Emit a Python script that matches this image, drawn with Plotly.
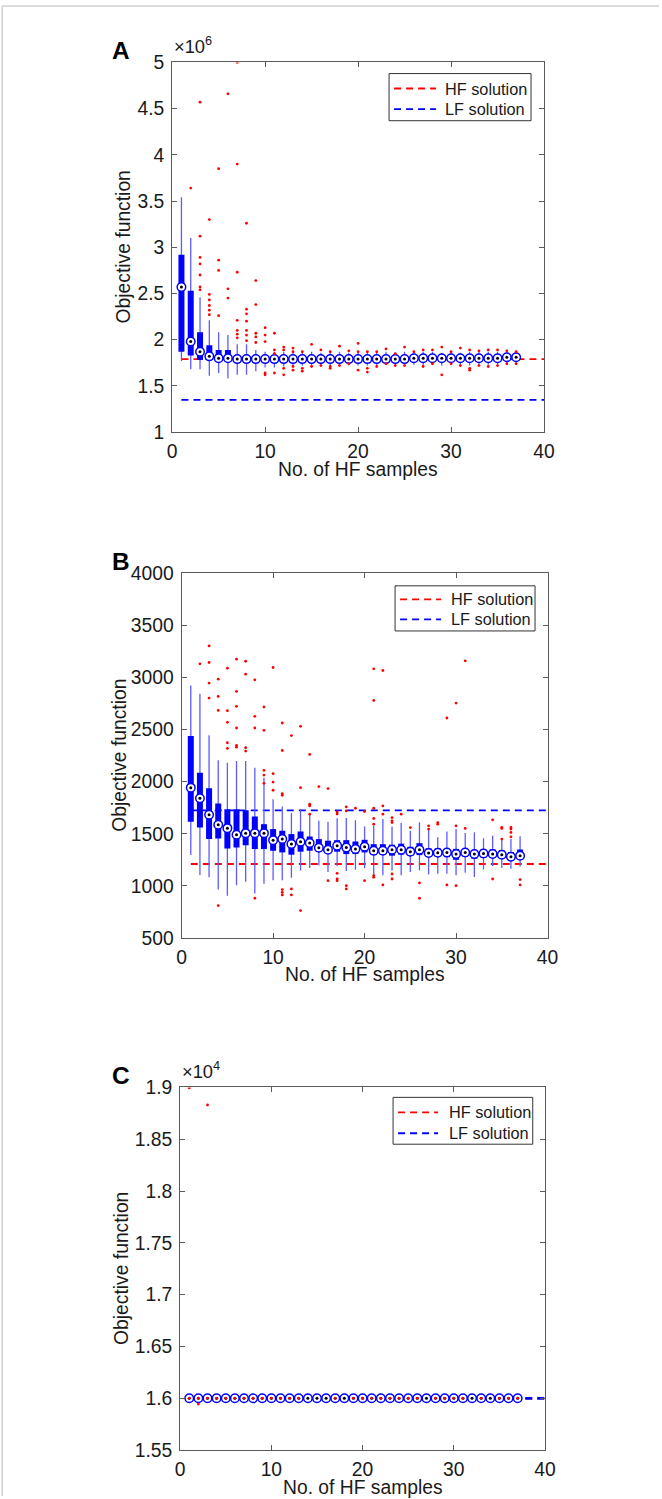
import plotly.graph_objects as go

# The page is photographed with an 8px body margin and then resized back to 662x1499,
# so figure pixels are mapped from reference pixels with these factors.
REF_W, REF_H = 662, 1499
BODY_MARGIN = 8
SX = (REF_W + 2 * BODY_MARGIN) / REF_W
SY = (REF_H + 2 * BODY_MARGIN) / REF_H
W, H = REF_W + BODY_MARGIN, REF_H + BODY_MARGIN
FS = (SX + SY) / 2
FONT = "Liberation Sans, Arial, sans-serif"

# ---------------- data ----------------
X = [1, 2, 3, 4, 5, 6, 7, 8, 9, 10, 11, 12, 13, 14, 15, 16, 17, 18, 19, 20,
     21, 22, 23, 24, 25, 26, 27, 28, 29, 30, 31, 32, 33, 34, 35, 36, 37]
REF_X = [1, 40]
SERIES_NAMES = ["HF solution", "LF solution"]

# Panel A (values in units of 10^6)
A_med = [2.57, 1.98, 1.87, 1.82, 1.80, 1.80, 1.79, 1.79, 1.79, 1.79, 1.79, 1.79, 1.79, 1.79, 1.79,
         1.79, 1.79, 1.79, 1.79, 1.79, 1.79, 1.79, 1.79, 1.79, 1.79, 1.80, 1.80, 1.80, 1.80, 1.80,
         1.80, 1.80, 1.80, 1.80, 1.80, 1.81, 1.81]
A_q1 = [1.87, 1.83, 1.78, 1.78, 1.78, 1.78, 1.78, 1.78, 1.78, 1.78, 1.78, 1.78, 1.78, 1.78, 1.78,
        1.78, 1.78, 1.78, 1.78, 1.78, 1.78, 1.78, 1.78, 1.78, 1.78, 1.78, 1.78, 1.78, 1.78, 1.78,
        1.78, 1.78, 1.78, 1.78, 1.78, 1.79, 1.79]
A_q3 = [2.92, 2.53, 2.08, 1.94, 1.89, 1.89, 1.82, 1.82, 1.81, 1.81, 1.81, 1.81, 1.81, 1.81, 1.81,
        1.81, 1.81, 1.81, 1.81, 1.81, 1.81, 1.81, 1.81, 1.81, 1.81, 1.81, 1.81, 1.81, 1.81, 1.81,
        1.81, 1.81, 1.81, 1.81, 1.81, 1.82, 1.82]
A_lo = [1.77, 1.68, 1.68, 1.61, 1.64, 1.58, 1.62, 1.62, 1.66, 1.70, 1.70, 1.71, 1.71, 1.72, 1.72,
        1.72, 1.72, 1.72, 1.73, 1.72, 1.72, 1.72, 1.73, 1.72, 1.73, 1.73, 1.72, 1.73, 1.72, 1.73,
        1.72, 1.72, 1.73, 1.73, 1.73, 1.73, 1.74]
A_hi = [3.54, 3.10, 2.46, 2.21, 2.08, 2.05, 1.95, 1.95, 1.89, 1.87, 1.87, 1.87, 1.87, 1.86, 1.87,
        1.86, 1.86, 1.87, 1.86, 1.87, 1.86, 1.86, 1.87, 1.86, 1.87, 1.86, 1.87, 1.87, 1.86, 1.87,
        1.86, 1.87, 1.87, 1.87, 1.87, 1.87, 1.87]
A_out_x = [2,
           3, 3, 3, 3, 3, 3, 3,
           4, 4, 4, 4, 4, 4,
           5, 5, 5, 5,
           6, 6, 6,
           7, 7, 7, 7, 7, 7, 7,
           8, 8, 8, 8, 8, 8, 8,
           9, 9, 9, 9, 9,
           10, 10, 10, 10, 10,
           11, 11, 11, 11,
           12, 12, 12, 12,
           13, 13, 13, 13,
           14, 14, 14,
           15, 15, 16, 16, 17, 17, 17, 18, 18, 19, 19, 20, 20, 20,
           21, 21, 21, 22, 22, 23, 23, 24, 24, 25, 25, 26, 27, 27, 28, 28,
           29, 29, 30, 30, 31, 31, 32, 32, 32, 33, 33, 34, 34, 35, 35, 36, 36, 37, 37]
A_out_y = [3.64,
           4.57, 3.12, 2.89, 2.82, 2.70, 2.57, 2.54,
           3.30, 2.49, 2.43, 2.37, 2.32, 2.27,
           3.85, 2.86, 2.75, 2.26,
           4.66, 2.55, 2.45,
           5.00, 3.90, 2.73, 2.21, 2.10, 2.06, 2.02,
           3.26, 2.33, 2.28, 2.20, 2.10, 2.05, 1.99,
           2.64, 2.38, 2.07, 2.03, 1.97,
           2.13, 2.05, 1.98, 1.64, 1.62,
           2.07, 1.89, 1.85, 1.64,
           1.92, 1.89, 1.69, 1.62,
           1.91, 1.87, 1.71, 1.67,
           1.87, 1.69, 1.66,
           1.95, 1.71, 1.89, 1.72, 1.87, 1.71, 1.69, 1.93, 1.72, 1.88, 1.74, 1.96, 1.87, 1.67,
           1.87, 1.65, 1.69, 1.87, 1.71, 1.90, 1.74, 1.85, 1.72, 1.92, 1.72, 1.87, 1.89, 1.71, 1.89, 1.74,
           1.92, 1.62, 1.87, 1.74, 1.91, 1.72, 1.89, 1.69, 1.67, 1.88, 1.72, 1.89, 1.71, 1.89, 1.72, 1.88,
           1.74, 1.87, 1.74]
A_hf = 1.79
A_lf = 1.35
A_yticks = [1, 1.5, 2, 2.5, 3, 3.5, 4, 4.5, 5]
A_yticktext = ["1", "1.5", "2", "2.5", "3", "3.5", "4", "4.5", "5"]
A_yrange = [1, 5]

# Panel B
B_med = [1943, 1841, 1682, 1586, 1554, 1490, 1506, 1506, 1506, 1439, 1449, 1401, 1423, 1411, 1366,
         1347, 1385, 1369, 1353, 1375, 1337, 1337, 1347, 1347, 1328, 1347, 1315, 1318, 1321, 1305,
         1321, 1305, 1310, 1305, 1299, 1280, 1289]
B_q1 = [1615, 1560, 1449, 1455, 1359, 1369, 1391, 1353, 1353, 1337, 1321, 1299, 1328, 1337, 1328,
        1315, 1328, 1305, 1305, 1321, 1295, 1300, 1290, 1300, 1290, 1295, 1285, 1285, 1275, 1250,
        1280, 1260, 1270, 1270, 1265, 1250, 1260]
B_q3 = [2438, 2087, 1937, 1790, 1736, 1736, 1726, 1666, 1592, 1545, 1529, 1497, 1522, 1474, 1449,
        1433, 1439, 1439, 1426, 1442, 1400, 1400, 1395, 1405, 1375, 1410, 1360, 1360, 1355, 1355,
        1355, 1345, 1350, 1350, 1340, 1325, 1350]
B_lo = [1296, 1104, 1082, 964, 906, 1005, 1040, 926, 1021, 1053, 1053, 1078, 1148, 1171, 1196,
        1133, 1190, 1142, 1155, 1170, 1101, 1101, 1148, 1101, 1133, 1148, 1110, 1117, 1117, 1101,
        1126, 1085, 1158, 1190, 1171, 1164, 1187]
B_hi = [2923, 2846, 2447, 2205, 2182, 2198, 2198, 2134, 2039, 1832, 1762, 1699, 1737, 1680, 1626,
        1616, 1650, 1651, 1630, 1570, 1578, 1641, 1571, 1603, 1530, 1610, 1552, 1466, 1521, 1546,
        1508, 1514, 1457, 1482, 1444, 1451, 1476]
B_out_x = [2,
           3, 3, 3, 3,
           4, 4, 4, 4,
           5, 5, 5, 5, 5,
           6, 6, 6, 6, 6, 6,
           7, 7, 7, 7,
           8, 8, 8, 8,
           9, 9, 9, 9, 9,
           10, 10, 10, 10,
           11, 11, 11, 11, 11, 11, 11,
           12, 12, 12,
           13, 13, 13,
           14, 14, 14, 14,
           15, 16, 16,
           17, 17, 17, 17, 17,
           18, 18, 18, 18,
           19, 20, 20,
           21, 21, 21, 21, 21, 21, 21,
           22, 22, 22, 22,
           23, 23, 23, 23, 23,
           24, 25, 26, 26, 27, 27, 28, 28, 29, 29, 30, 30, 30, 31, 31,
           34, 34, 35, 35, 35, 36, 36, 36, 36, 37, 37]
B_out_y = [3132,
           3304, 3145, 2947, 2803,
           2985, 2819, 2685, 811,
           3090, 2682, 2570, 2374, 2320,
           3177, 2867, 2724, 2516, 2348, 2332,
           3157, 3033, 2326, 2294,
           2979, 2628, 2516, 881,
           2718, 2494, 2109, 2064, 1985,
           3097, 2077, 1997, 1918,
           2564, 2300, 1886, 1870, 964, 938, 913,
           2443, 970, 913,
           2532, 1943, 763,
           2262, 1784, 1768, 1688,
           1953, 1934, 1050,
           1710, 1690, 1120, 1066, 1050,
           1758, 1720, 1002, 970,
           1745, 1714, 1050,
           3084, 2781, 1745, 1647, 1592, 1098, 1082,
           3068, 1768, 1688, 1009,
           1656, 1624, 1608, 1114, 1066,
           1688, 1560, 1028, 881, 1576, 1545, 1608, 1592, 2612, 1009, 2755, 1576, 1002, 3161, 1551,
           1634, 1066, 1561, 1551, 1449, 1561, 1545, 1513, 1471, 1060, 1009]
B_hf = 1210
B_lf = 1725
B_yticks = [500, 1000, 1500, 2000, 2500, 3000, 3500, 4000]
B_yticktext = ["500", "1000", "1500", "2000", "2500", "3000", "3500", "4000"]
B_yrange = [500, 4000]

# Panel C (values in units of 10^4)
C_med = [1.6, 1.6, 1.6, 1.6, 1.6, 1.6, 1.6, 1.6, 1.6, 1.6, 1.6, 1.6, 1.6, 1.6, 1.6, 1.6, 1.6, 1.6,
         1.6, 1.6, 1.6, 1.6, 1.6, 1.6, 1.6, 1.6, 1.6, 1.6, 1.6, 1.6, 1.6, 1.6, 1.6, 1.6, 1.6, 1.6, 1.6]
C_q1 = C_med
C_q3 = C_med
C_lo = C_med
C_hi = C_med
C_out_x = [1, 3, 2,
           1, 2, 3, 4, 5, 6, 7, 8, 9, 10, 11, 12, 13, 17, 19, 20, 21, 22, 23, 24, 25, 26, 28,
           29, 30, 31, 33, 35, 36, 37]
C_out_y = [1.8995, 1.883, 1.5945,
           1.6, 1.6, 1.6, 1.6, 1.6, 1.6, 1.6, 1.6, 1.6, 1.6, 1.6, 1.6, 1.6, 1.6, 1.6, 1.6, 1.6,
           1.6, 1.6, 1.6, 1.6, 1.6, 1.6, 1.6, 1.6, 1.6, 1.6, 1.6, 1.6, 1.6]
C_hf = 1.6
C_lf = 1.6
C_yticks = [1.55, 1.6, 1.65, 1.7, 1.75, 1.8, 1.85, 1.9]
C_yticktext = ["1.55", "1.6", "1.65", "1.7", "1.75", "1.8", "1.85", "1.9"]
C_yrange = [1.55, 1.9]

X_RANGE = [0, 40]
X_TICKS = [0, 10, 20, 30, 40]

# ---------------- layout geometry (reference pixels -> paper fractions) ----------------
def fx(px):
    return (px * SX - BODY_MARGIN) / W

def fy(py):
    return 1 - (py * SY - BODY_MARGIN) / H

def fs(size):
    return round(size * FS, 1)

PANELS = [
    dict(letter="A", l=175, r=547, t=60.5, b=431.5, ylx=126, exp="6", cover=False,
         leg=dict(x0=392, x1=534, y0=71.7, y1=119, lx0=397, lx1=439, tx=446, rows=[86.7, 107.3]),
         med=A_med, q1=A_q1, q3=A_q3, lo=A_lo, hi=A_hi, ox=A_out_x, oy=A_out_y, hf=A_hf, lf=A_lf,
         yt=A_yticks, ytt=A_yticktext, yr=A_yrange),
    dict(letter="B", l=184.5, r=550.5, t=573.3, b=939, ylx=123, exp=None, cover=False,
         leg=dict(x0=398, x1=538, y0=585.7, y1=631, lx0=403, lx1=444, tx=452, rows=[599.3, 619.3]),
         med=B_med, q1=B_q1, q3=B_q3, lo=B_lo, hi=B_hi, ox=B_out_x, oy=B_out_y, hf=B_hf, lf=B_lf,
         yt=B_yticks, ytt=B_yticktext, yr=B_yrange),
    dict(letter="C", l=183, r=548, t=1089, b=1453, ylx=125, exp="4", cover=True,
         leg=dict(x0=396, x1=535.7, y0=1099, y1=1146, lx0=401, lx1=441, tx=450, rows=[1114, 1135]),
         med=C_med, q1=C_q1, q3=C_q3, lo=C_lo, hi=C_hi, ox=C_out_x, oy=C_out_y, hf=C_hf, lf=C_lf,
         yt=C_yticks, ytt=C_yticktext, yr=C_yrange),
]

AXCOL = "#5a5a5a"
TXT = "#1a1a1a"
HF_COL, LF_COL = "#ff0000", "#0000ff"
DASH = "7px,5px"

fig = go.Figure()
annotations = []
shapes = []
layout = dict(
    width=W, height=H, margin=dict(l=0, r=0, t=0, b=0),
    paper_bgcolor="white", plot_bgcolor="white",
    font=dict(family=FONT, size=fs(19), color=TXT),
    showlegend=False,
)

for i, p in enumerate(PANELS):
    n = "" if i == 0 else str(i + 1)
    xa, ya = "x" + n, "y" + n

    fig.add_trace(go.Scatter(x=REF_X, y=[p["hf"], p["hf"]], mode="lines", name=SERIES_NAMES[0],
                             line=dict(color=HF_COL, width=1.8, dash=DASH),
                             xaxis=xa, yaxis=ya, hoverinfo="skip"))
    fig.add_trace(go.Scatter(x=REF_X, y=[p["lf"], p["lf"]], mode="lines", name=SERIES_NAMES[1],
                             line=dict(color=LF_COL, width=2.6 if p["cover"] else 1.8, dash=DASH),
                             xaxis=xa, yaxis=ya, hoverinfo="skip"))
    wx, wy = [], []
    for k, xv in enumerate(X):
        wx += [xv, xv, None]
        wy += [p["lo"][k], p["hi"][k], None]
    fig.add_trace(go.Scatter(x=wx, y=wy, mode="lines", line=dict(color="#5c5cff", width=1.3),
                             xaxis=xa, yaxis=ya, hoverinfo="skip"))
    bx, by = [], []
    for k, xv in enumerate(X):
        bx += [xv, xv, None]
        by += [p["q1"][k], p["q3"][k], None]
    fig.add_trace(go.Scatter(x=bx, y=by, mode="lines", line=dict(color="#0000ff", width=6),
                             xaxis=xa, yaxis=ya, hoverinfo="skip"))
    fig.add_trace(go.Scatter(x=X, y=p["med"], mode="markers",
                             marker=dict(symbol="circle", size=8.5, color="white",
                                         line=dict(color="#0000ff", width=1.5)),
                             xaxis=xa, yaxis=ya, hoverinfo="skip"))
    fig.add_trace(go.Scatter(x=X, y=p["med"], mode="markers",
                             marker=dict(symbol="circle", size=3, color="black"),
                             xaxis=xa, yaxis=ya, hoverinfo="skip"))
    fig.add_trace(go.Scatter(x=p["ox"], y=p["oy"], mode="markers",
                             marker=dict(symbol="circle", size=2.8, color="#ff0000"),
                             xaxis=xa, yaxis=ya, hoverinfo="skip"))

    axcommon = dict(showline=True, linecolor=AXCOL, linewidth=1, mirror="ticks",
                    ticks="inside", ticklen=5, tickcolor=AXCOL, tickwidth=1,
                    showgrid=False, zeroline=False,
                    tickfont=dict(family=FONT, size=fs(19), color=TXT))
    layout["xaxis" + n] = dict(domain=[fx(p["l"]), fx(p["r"])], anchor=ya, range=X_RANGE,
                               tickvals=X_TICKS, ticktext=[str(t) for t in X_TICKS],
                               ticklabelstandoff=2, **axcommon)
    layout["yaxis" + n] = dict(domain=[fy(p["b"]), fy(p["t"])], anchor=xa, range=p["yr"],
                               tickvals=p["yt"], ticktext=p["ytt"],
                               ticklabelstandoff=3, **axcommon)

    # legend box (drawn as in the MATLAB figure)
    lgd = p["leg"]
    shapes.append(dict(type="rect", xref="paper", yref="paper",
                       x0=fx(lgd["x0"]), x1=fx(lgd["x1"]), y0=fy(lgd["y1"]), y1=fy(lgd["y0"]),
                       line=dict(color="#333333", width=1), fillcolor="white", layer="above"))
    for name, col, ry in zip(SERIES_NAMES, [HF_COL, LF_COL], lgd["rows"]):
        shapes.append(dict(type="line", xref="paper", yref="paper",
                           x0=fx(lgd["lx0"]), x1=fx(lgd["lx1"]), y0=fy(ry), y1=fy(ry),
                           line=dict(color=col, width=1.8, dash=DASH), layer="above"))
        annotations.append(dict(text=name, x=fx(lgd["tx"]), y=fy(ry), xref="paper", yref="paper",
                                showarrow=False, xanchor="left", yanchor="middle",
                                font=dict(family=FONT, size=fs(16), color=TXT)))

    annotations.append(dict(text="<b>" + p["letter"] + "</b>", x=fx(124), y=fy(p["t"] - 12),
                            xref="paper", yref="paper", showarrow=False,
                            font=dict(family=FONT, size=fs(24), color="black"),
                            xanchor="center", yanchor="middle"))
    if p["exp"]:
        annotations.append(dict(text="\u00d710<sup>" + p["exp"] + "</sup>", x=fx(p["l"]),
                                y=fy(p["t"] - 3), xref="paper", yref="paper", showarrow=False,
                                font=dict(family=FONT, size=fs(18), color=TXT),
                                xanchor="left", yanchor="bottom"))
    annotations.append(dict(text="Objective function", x=fx(p["ylx"]), y=fy((p["t"] + p["b"]) / 2),
                            xref="paper", yref="paper", showarrow=False, textangle=-90,
                            font=dict(family=FONT, size=fs(19), color=TXT),
                            xanchor="center", yanchor="middle"))
    annotations.append(dict(text="No. of HF samples", x=fx((p["l"] + p["r"]) / 2), y=fy(p["b"] + 37),
                            xref="paper", yref="paper", showarrow=False,
                            font=dict(family=FONT, size=fs(19), color=TXT),
                            xanchor="center", yanchor="middle"))

shapes += [
    dict(type="line", xref="paper", yref="paper", x0=fx(5), x1=fx(5), y0=0, y1=fy(4),
         line=dict(color="#d0d0d0", width=1.5)),
    dict(type="line", xref="paper", yref="paper", x0=fx(5), x1=1, y0=fy(4), y1=fy(4),
         line=dict(color="#d0d0d0", width=1.5)),
]
layout["annotations"] = annotations
layout["shapes"] = shapes
fig.update_layout(**layout)
fig.write_html("out.html")
